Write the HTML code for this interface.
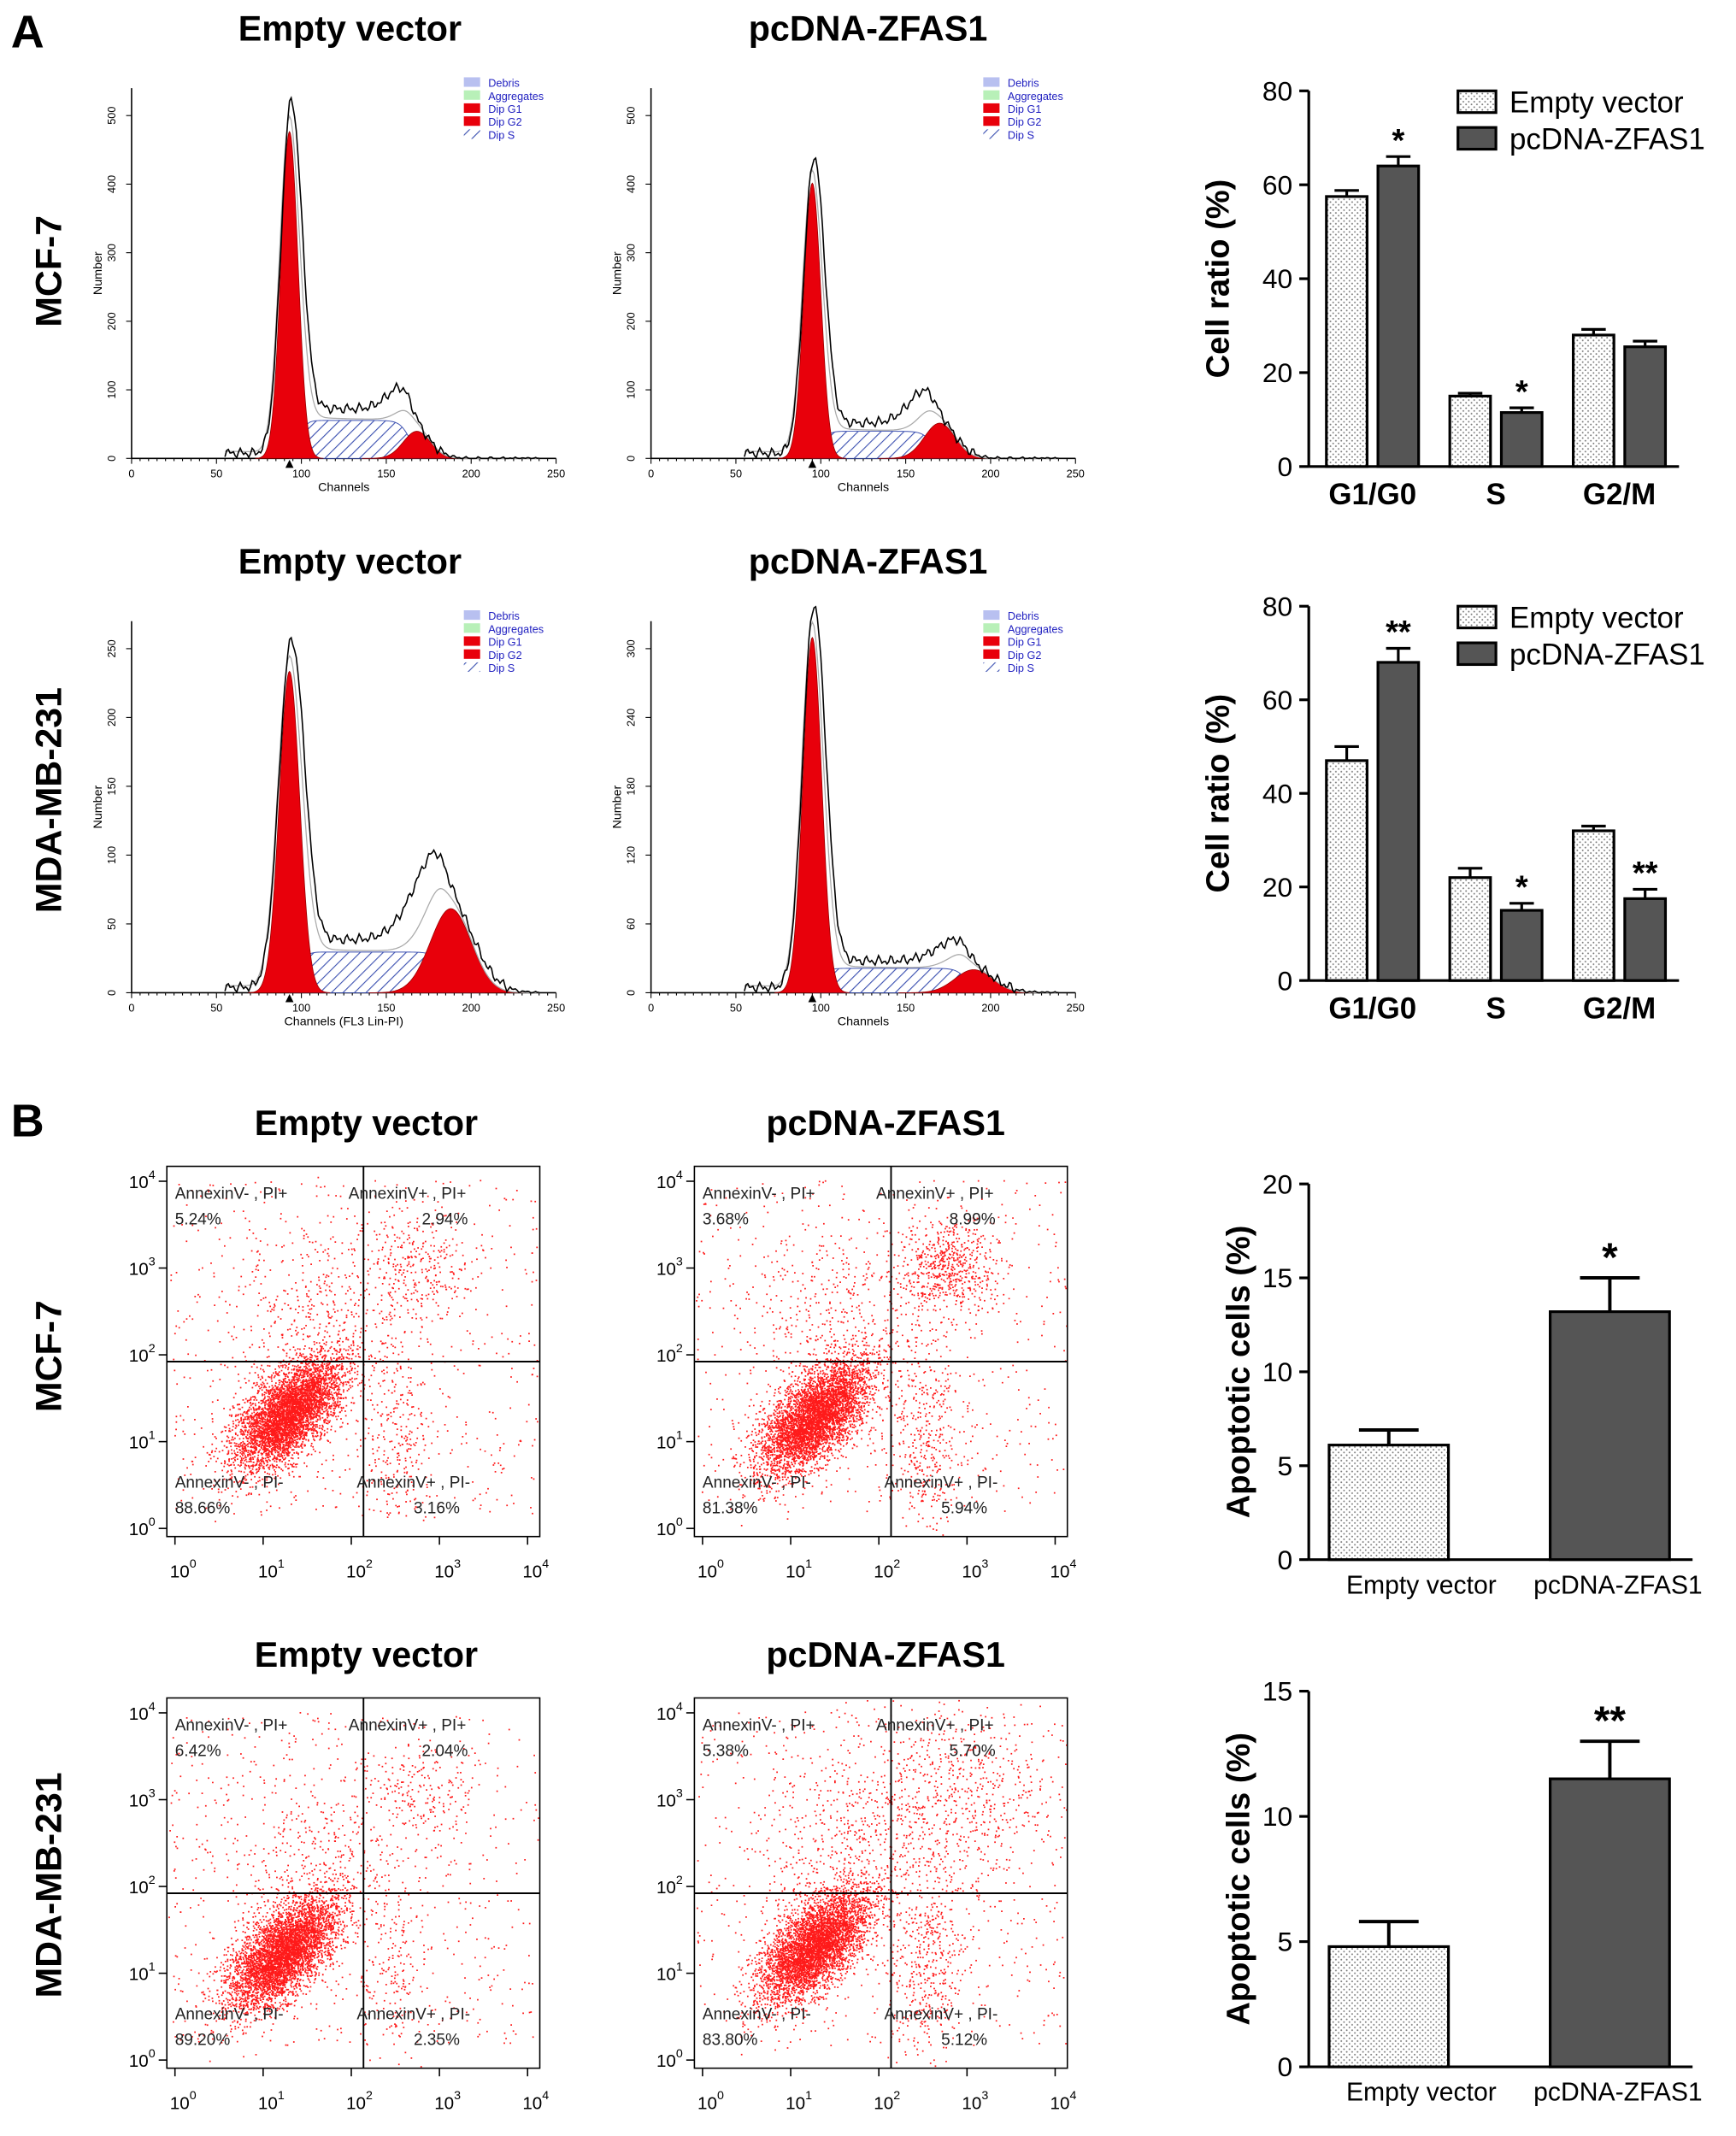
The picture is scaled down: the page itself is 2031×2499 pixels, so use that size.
<!DOCTYPE html>
<html><head><meta charset="utf-8">
<style>
html,body{margin:0;padding:0;background:#fff}
svg{display:block}
text{font-family:"Liberation Sans",Arial,sans-serif}
</style></head>
<body>
<svg id="fig" xmlns="http://www.w3.org/2000/svg" width="2031" height="2499" viewBox="0 0 1280 1575">
<defs>
<pattern id="hatch" width="6" height="6" patternUnits="userSpaceOnUse" patternTransform="rotate(45)">
<rect width="6" height="6" fill="#fff"/><line x1="0" y1="0" x2="0" y2="6" stroke="#3a4fb0" stroke-width="1.4"/></pattern>
<pattern id="dots" width="4" height="4" patternUnits="userSpaceOnUse">
<rect width="4" height="4" fill="#fff"/><circle cx="1" cy="1" r="0.6" fill="#777"/><circle cx="3" cy="3" r="0.6" fill="#777"/></pattern>
</defs>
<g id="root"></g>
</svg>
<script>
// ---- Cell-cycle bar data ----
const ccCategories=["G1/G0","S","G2/M"];
const mcfEmpty=[57.5,15,28], mcfEmptyErr=[1.3,0.6,1.2];
const mcfZfas=[64,11.5,25.5], mcfZfasErr=[2,1,1.2];
const mcfStars=["*","*",""];
const mdaEmpty=[47,22,32], mdaEmptyErr=[3,2,1];
const mdaZfas=[68,15,17.5], mdaZfasErr=[3,1.5,2];
const mdaStars=["**","*","**"];
const ccTicks=[0,20,40,60,80];
// ---- Apoptosis bar data ----
const apoCategories=["Empty vector","pcDNA-ZFAS1"];
const apoMcf=[6.1,13.2], apoMcfErr=[0.8,1.8], apoMcfStars=["","*"];
const apoMda=[4.8,11.5], apoMdaErr=[1,1.5], apoMdaStars=["","**"];
const apoMcfTicks=[0,5,10,15,20], apoMdaTicks=[0,5,10,15];
// ---- Histogram peak params (channel, sd, relative height) ----
const histG1Mu=[93,95,93,95], histG1Sd=[5,5,6,5.5], histG1H=[241,203,237,262];
const histG2Mu=[168,170,188,190], histG2Sd=[8,9,12,11], histG2H=[20,26,62,17];
const histSLevel=[28,20,30,18];
// ---- Quadrant percentages ----
const quadUL=["5.24%","3.68%","6.42%","5.38%"], quadUR=["2.94%","8.99%","2.04%","5.70%"];
const quadLL=["88.66%","81.38%","89.20%","83.80%"], quadLR=["3.16%","5.94%","2.35%","5.12%"];

const NS="http://www.w3.org/2000/svg", root=document.getElementById('root');
function el(tag,attrs,parent,txt){const e=document.createElementNS(NS,tag);for(const k in attrs)e.setAttribute(k,attrs[k]);if(txt!==undefined)e.textContent=txt;(parent||root).appendChild(e);return e;}
function T(x,y,s,opts,parent){return el('text',Object.assign({x:x,y:y},opts||{}),parent,s);}

let t;
t=T(8,35,'A',{'font-size':34,'font-weight':'bold'});
t=T(8,838,'B',{'font-size':34,'font-weight':'bold'});
const titles=[[258,30,'Empty vector'],[640,30,'pcDNA-ZFAS1'],[258,423,'Empty vector'],[640,423,'pcDNA-ZFAS1'],[270,837,'Empty vector'],[653,837,'pcDNA-ZFAS1'],[270,1229,'Empty vector'],[653,1229,'pcDNA-ZFAS1']];
titles.forEach(a=>{const e=T(a[0],a[1],a[2],{'font-size':26,'font-weight':'bold','text-anchor':'middle'});});
[[45,200,'MCF-7'],[45,590,'MDA-MB-231'],[45,1000,'MCF-7'],[45,1390,'MDA-MB-231']].forEach(a=>{const e=T(0,0,a[2],{'font-size':27,'font-weight':'bold','text-anchor':'middle',transform:`translate(${a[0]},${a[1]}) rotate(-90)`});});

function gauss(x,m,s){return Math.exp(-0.5*((x-m)/s)**2);}
function histogram(i,x0,yb,top,ymaxLabel,xlabel){
  const g=el('g',{});
  
  
  const w=313, sx=c=>x0+c*w/250, H=yb-top;
  el('line',{x1:x0,y1:top,x2:x0,y2:yb,stroke:'#000','stroke-width':1},g);
  el('line',{x1:x0,y1:yb,x2:x0+w,y2:yb,stroke:'#000','stroke-width':1},g);
  for(let c=0;c<=250;c+=5){el('line',{x1:sx(c),y1:yb,x2:sx(c),y2:yb+(c%50?2:4),stroke:'#000','stroke-width':0.7},g);}
  [0,50,100,150,200,250].forEach(c=>T(sx(c),yb+14,String(c),{'font-size':8,'text-anchor':'middle'},g));
  const step=ymaxLabel/5;
  for(let k=0;k<=5;k++){const y=yb-k*H/5.4;el('line',{x1:x0-4,y1:y,x2:x0,y2:y,stroke:'#000','stroke-width':0.7},g);T(0,0,String(Math.round(k*step)),{'font-size':8,'text-anchor':'middle',transform:`translate(${x0-12},${y}) rotate(-90)`},g);}
  T(0,0,'Number',{'font-size':9,'text-anchor':'middle',transform:`translate(${x0-22},${(yb+top)/2}) rotate(-90)`},g);
  T(x0+w*0.5,yb+24,xlabel,{'font-size':9,'text-anchor':'middle'},g);
  const m1=histG1Mu[i],s1=histG1Sd[i],h1=histG1H[i],m2=histG2Mu[i],s2=histG2Sd[i],h2=histG2H[i],sl=histSLevel[i];
  const S=c=>{const a=1/(1+Math.exp(-(c-(m1+6))/2)),b=1/(1+Math.exp((c-(m2-4))/3));return sl*a*b;};
  let p=`M${sx(m1)},${yb}`;for(let c=m1;c<=m2+20;c+=1)p+=`L${sx(c)},${yb-S(c)}`;p+=`L${sx(m2+20)},${yb}Z`;
  el('path',{d:p,fill:'url(#hatch)',stroke:'#3a4fb0','stroke-width':0.6},g);
  p=`M${sx(m1-4*s1)},${yb}`;for(let c=m1-4*s1;c<=m1+4*s1;c+=0.5)p+=`L${sx(c)},${yb-h1*gauss(c,m1,s1)}`;p+='Z';
  el('path',{d:p,fill:'#e8000b',stroke:'#900','stroke-width':0.5},g);
  p=`M${sx(m2-4*s2)},${yb}`;for(let c=m2-4*s2;c<=m2+4*s2;c+=0.5)p+=`L${sx(c)},${yb-h2*gauss(c,m2,s2)}`;p+='Z';
  el('path',{d:p,fill:'#e8000b',stroke:'#900','stroke-width':0.5},g);
  p='';for(let c=55;c<=240;c+=1){const v=h1*gauss(c,m1,s1*1.15)+h2*gauss(c,m2,s2)+S(c)+5*gauss(c,60,30);p+=(p?'L':'M')+sx(c)+','+(yb-v*1.03);}
  el('path',{d:p,fill:'none',stroke:'#aaa','stroke-width':0.8},g);
  p='';for(let c=55;c<=240;c+=1){const v=h1*1.08*gauss(c,m1+1,s1*1.2)+h2*1.2*gauss(c,m2-4,s2*1.3)+S(c)*1.3+4*gauss(c,60,25);const wig=(Math.sin(c*1.7)+Math.sin(c*0.9))*2*(v>3?1:0.3);p+=(p?'L':'M')+sx(c)+','+(yb-Math.max(0,v+wig));}
  el('path',{d:p,fill:'none',stroke:'#000','stroke-width':1},g);
  const lx=x0+245, ly=top-8;
  [['#b8c0f0','Debris'],['#b8f0b8','Aggregates'],['#e8000b','Dip G1'],['#e8000b','Dip G2'],['url(#hatch)','Dip S']].forEach((a,k)=>{
    el('rect',{x:lx,y:ly+k*9.6,width:12,height:7,fill:a[0]},g);
    T(lx+18,ly+k*9.6+7,a[1],{'font-size':8,fill:'#2020c0'},g);
  });
  el('polygon',{points:`${sx(m1)-3},${yb+7} ${sx(m1)+3},${yb+7} ${sx(m1)},${yb+1}`,fill:'#000'},g);
}
histogram(0,97,338,65,500,'Channels');
histogram(1,480,338,65,500,'Channels');
histogram(2,97,732,458,250,'Channels (FL3 Lin-PI)');
histogram(3,480,732,458,300,'Channels');

function barChart(cats,e,ee,z,ze,stars,ticks,ax,ytop,ybot,opt){
  const g=el('g',{});
  
  
  const ymax=ticks[ticks.length-1], Y=v=>ybot-(v/ymax)*(ybot-ytop);
  el('line',{x1:ax,y1:ytop,x2:ax,y2:ybot,stroke:'#000','stroke-width':2},g);
  el('line',{x1:ax,y1:ybot,x2:opt.xend,y2:ybot,stroke:'#000','stroke-width':2},g);
  ticks.forEach(v=>{el('line',{x1:ax-7,y1:Y(v),x2:ax,y2:Y(v),stroke:'#000','stroke-width':2},g);T(ax-12,Y(v)+7,String(v),{'font-size':20,'text-anchor':'end'},g);});
  T(0,0,opt.ytitle,{'font-size':24,'font-weight':'bold','text-anchor':'middle',transform:`translate(${opt.ytx},${(ytop+ybot)/2}) rotate(-90)`},g);
  cats.forEach((c,k)=>{
    const cx=opt.c0+k*opt.dc;
    [[e,ee,'url(#dots)',-1],[z,ze,'#555',1]].forEach(s=>{
      const bx=s[3]<0?cx-opt.gap-opt.bw:cx+opt.gap;
      const v=s[0][k],er=s[1][k];
      el('line',{x1:bx+opt.bw/2,y1:Y(v),x2:bx+opt.bw/2,y2:Y(v+er),stroke:'#000','stroke-width':2},g);
      el('line',{x1:bx+opt.bw/2-opt.cap,y1:Y(v+er),x2:bx+opt.bw/2+opt.cap,y2:Y(v+er),stroke:'#000','stroke-width':2},g);
      const r=el('rect',{x:bx,y:Y(v),width:opt.bw,height:ybot-Y(v),fill:s[2],stroke:'#000','stroke-width':2},g);
      
      
      if(s[3]>0&&stars[k])T(bx+opt.bw/2,Y(v+er)-4,stars[k],{'font-size':opt.starSize,'font-weight':'bold','text-anchor':'middle'},g);
    });
    T(cx,ybot+opt.lblDy,c,{'font-size':opt.lblSize,'font-weight':'bold','text-anchor':'middle'},g);
  });
  [['url(#dots)','Empty vector'],['#555','pcDNA-ZFAS1']].forEach((a,k)=>{
    el('rect',{x:opt.legend[0],y:opt.legend[1]+k*27-8,width:28,height:16,fill:a[0],stroke:'#000','stroke-width':2},g);
    T(opt.legend[0]+38,opt.legend[1]+k*27+8,a[1],{'font-size':22},g);});
}
const ccOpt=(yt)=>({xend:1238,ytitle:'Cell ratio (%)',ytx:906,c0:1012,dc:91,gap:4,bw:30,cap:9,starSize:24,lblDy:28,lblSize:22,legend:[1075,yt]});
barChart(ccCategories,mcfEmpty,mcfEmptyErr,mcfZfas,mcfZfasErr,mcfStars,ccTicks,965,67,344,ccOpt(75));
barChart(ccCategories,mdaEmpty,mdaEmptyErr,mdaZfas,mdaZfasErr,mdaStars,ccTicks,965,447,723,ccOpt(455));

function apoChart(v,ve,stars,ticks,ytop,ybot){
  const g=el('g',{});
  
  
  const ax=965,ymax=ticks[ticks.length-1],Y=u=>ybot-(u/ymax)*(ybot-ytop);
  el('line',{x1:ax,y1:ytop,x2:ax,y2:ybot,stroke:'#000','stroke-width':2},g);
  el('line',{x1:ax,y1:ybot,x2:1248,y2:ybot,stroke:'#000','stroke-width':2},g);
  ticks.forEach(u=>{el('line',{x1:ax-7,y1:Y(u),x2:ax,y2:Y(u),stroke:'#000','stroke-width':2},g);T(ax-12,Y(u)+7,String(u),{'font-size':20,'text-anchor':'end'},g);});
  T(0,0,'Apoptotic cells (%)',{'font-size':24,'font-weight':'bold','text-anchor':'middle',transform:`translate(921,${(ytop+ybot)/2}) rotate(-90)`},g);
  const bx=[980,1143],fills=['url(#dots)','#555'],cx=[1048,1193];
  v.forEach((u,k)=>{
    const mid=bx[k]+44;
    el('line',{x1:mid,y1:Y(u),x2:mid,y2:Y(u+ve[k]),stroke:'#000','stroke-width':2.5},g);
    el('line',{x1:mid-22,y1:Y(u+ve[k]),x2:mid+22,y2:Y(u+ve[k]),stroke:'#000','stroke-width':2.5},g);
    const r=el('rect',{x:bx[k],y:Y(u),width:88,height:ybot-Y(u),fill:fills[k],stroke:'#000','stroke-width':2},g);
    
    
    if(stars[k])T(mid,Y(u+ve[k])-5,stars[k],{'font-size':30,'font-weight':'bold','text-anchor':'middle'},g);
    T(cx[k],ybot+25,apoCategories[k],{'font-size':19,'text-anchor':'middle'},g);
  });
}
apoChart(apoMcf,apoMcfErr,apoMcfStars,apoMcfTicks,873,1150);
apoChart(apoMda,apoMdaErr,apoMdaStars,apoMdaTicks,1247,1524);

let seed=12345;function rnd(){seed=(seed*1103515245+12345)%2147483648;return seed/2147483648;}
function nrm(){return Math.sqrt(-2*Math.log(rnd()+1e-9))*Math.cos(2*Math.PI*rnd());}
function scatter(i,x0,y0,mainCx,mainCy,urCount,lrCount,spread){
  const g=el('g',{});
  
  
  const w=275,h=273,qx=x0+145,qy=y0+144;
  let d='';
  const add=(x,y)=>{if(x>x0+1&&x<x0+w-1&&y>y0+1&&y<y0+h-1)d+=`M${x.toFixed(1)} ${y.toFixed(1)}h1.1v1.1h-1.1z`;};
  for(let k=0;k<4500;k++){const a=nrm(),b=nrm();add(mainCx+a*19+b*5,mainCy-a*16+b*12);}
  for(let k=0;k<600;k++){add(x0+rnd()*w,y0+rnd()*h*0.9+10);}
  for(let k=0;k<urCount;k++){add(qx+40+nrm()*spread,qy-70+nrm()*spread);}
  for(let k=0;k<lrCount;k++){add(qx+25+nrm()*14,qy+55+nrm()*35);}
  for(let k=0;k<400;k++){add(mainCx+20+nrm()*30,mainCy-60+nrm()*40);}
  el('path',{d:d,fill:'#ff1a1a'},g);
  el('rect',{x:x0,y:y0,width:w,height:h,fill:'none',stroke:'#000','stroke-width':1},g);
  el('line',{x1:qx,y1:y0,x2:qx,y2:y0+h,stroke:'#000','stroke-width':1.2},g);
  el('line',{x1:x0,y1:qy,x2:x0+w,y2:qy,stroke:'#000','stroke-width':1.2},g);
  for(let k=0;k<=4;k++){
    el('line',{x1:x0+6+k*65,y1:y0+h,x2:x0+6+k*65,y2:y0+h+6,stroke:'#000'},g);
    const tx=T(x0+12+k*65,y0+h+30,'10',{'font-size':13,'text-anchor':'middle'},g);
    el('tspan',{dy:-7,'font-size':9},tx,String(k));
    const yk=y0+h-6-k*64;
    el('line',{x1:x0-6,y1:yk,x2:x0,y2:yk,stroke:'#000'},g);
    const ty=T(x0-28,yk+5,'10',{'font-size':13},g);
    el('tspan',{dy:-7,'font-size':9},ty,String(k));
  }
  T(x0+6,y0+24,'AnnexinV- , PI+',{'font-size':12,fill:'#222'},g);
  T(x0+6,y0+43,quadUL[i],{'font-size':12,fill:'#222'},g);
  T(x0+134,y0+24,'AnnexinV+ , PI+',{'font-size':12,fill:'#222'},g);
  T(x0+222,y0+43,quadUR[i],{'font-size':12,fill:'#222','text-anchor':'end'},g);
  T(x0+6,y0+237,'AnnexinV- , PI-',{'font-size':12,fill:'#222'},g);
  T(x0+6,y0+256,quadLL[i],{'font-size':12,fill:'#222'},g);
  T(x0+140,y0+237,'AnnexinV+ , PI-',{'font-size':12,fill:'#222'},g);
  T(x0+216,y0+256,quadLR[i],{'font-size':12,fill:'#222','text-anchor':'end'},g);
}
scatter(0,123,860,212,1042,300,250,22);
scatter(1,512,860,600,1045,600,350,18);
scatter(2,123,1252,208,1440,200,180,20);
scatter(3,512,1252,600,1435,700,400,40);
</script>
</body></html>
